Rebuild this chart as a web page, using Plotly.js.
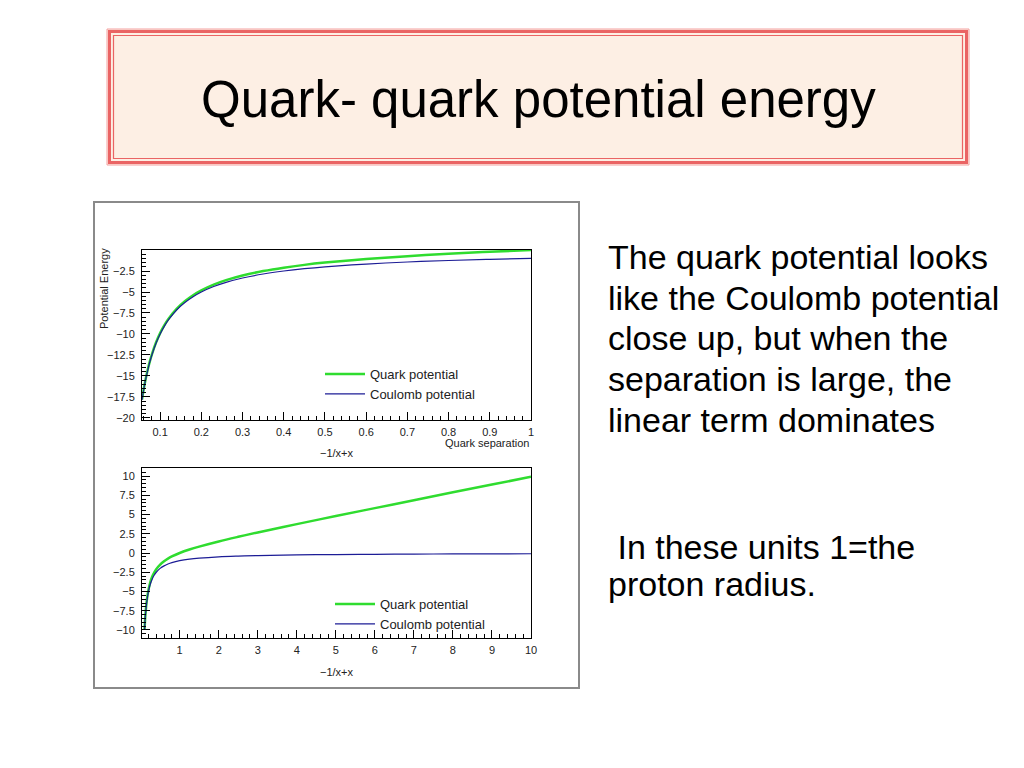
<!DOCTYPE html>
<html>
<head>
<meta charset="utf-8">
<script src="https://cdn.plot.ly/plotly-3.0.1.min.js"></script>
<style>html,body{margin:0;padding:0;background:#fff;}#chart{width:1024px;height:768px;}</style>
</head>
<body>
<div id="chart"></div>
<script>
// ---- data ----
const topX = [0.056,0.06,0.065,0.07,0.075,0.08,0.09,0.1,0.11,0.12,0.14,0.16,0.18,0.2,0.23,0.26,0.3,0.35,0.4,0.45,0.5,0.6,0.7,0.8,0.9,1.0];
const topCoulomb = [-17.86,-16.67,-15.38,-14.29,-13.33,-12.5,-11.11,-10,-9.09,-8.33,-7.14,-6.25,-5.56,-5,-4.35,-3.85,-3.33,-2.86,-2.5,-2.22,-2,-1.67,-1.43,-1.25,-1.11,-1];
const topQuark = [-17.8,-16.61,-15.32,-14.22,-13.26,-12.42,-11.02,-9.9,-8.98,-8.21,-7.0,-6.09,-5.38,-4.8,-4.12,-3.59,-3.03,-2.51,-2.1,-1.77,-1.5,-1.07,-0.73,-0.45,-0.21,0.0];

const botX = [0.1,0.11,0.12,0.14,0.16,0.18,0.2,0.25,0.3,0.35,0.4,0.5,0.6,0.7,0.8,1,1.25,1.5,2,2.5,3,4,5,6,7,8,9,10];
const botCoulomb = [-10,-9.09,-8.33,-7.14,-6.25,-5.56,-5,-4,-3.33,-2.86,-2.5,-2,-1.67,-1.43,-1.25,-1,-0.8,-0.67,-0.5,-0.4,-0.33,-0.25,-0.2,-0.17,-0.14,-0.12,-0.11,-0.1];
const botQuark = [-9.9,-8.98,-8.21,-7.0,-6.09,-5.38,-4.8,-3.75,-3.03,-2.51,-2.1,-1.5,-1.07,-0.73,-0.45,0,0.45,0.83,1.5,2.1,2.67,3.75,4.8,5.83,6.86,7.88,8.89,9.9];

const topXTicks = [0.1,0.2,0.3,0.4,0.5,0.6,0.7,0.8,0.9,1];
const topXTickText = ['0.1','0.2','0.3','0.4','0.5','0.6','0.7','0.8','0.9','1'];
const topYTicks = [-20,-17.5,-15,-12.5,-10,-7.5,-5,-2.5];
const botXTicks = [1,2,3,4,5,6,7,8,9,10];
const botYTicks = [-10,-7.5,-5,-2.5,0,2.5,5,7.5,10];

const seriesNames = ['Quark potential','Coulomb potential'];
const titleText = 'Quark- quark potential energy';
const bodyLines = ['The quark potential looks','like the Coulomb potential','close up, but when the','separation is large, the','linear term dominates'];
const noteLines = ['\u00a0In these units 1=the','proton radius.'];

// ---- styling ----
const GREEN = '#2fdc2f', BLUE = '#1c1c96';
const W = 1024, H = 768;
const px = v => v / W, py = v => 1 - v / H;
const tickFont = {family: 'Liberation Sans, Arial, sans-serif', size: 11, color: '#222'};

function xAxis(domain, range, tickvals, ticktext, minorDtick, anchor) {
  return {
    domain, range, anchor, tickmode: 'array', tickvals, ticktext,
    ticks: 'inside', ticklen: 8, tickcolor: '#000', tickwidth: 1,
    minor: {ticks: 'inside', ticklen: 4, dtick: minorDtick, tick0: 0, tickcolor: '#000', tickwidth: 1, showgrid: false},
    showline: true, linecolor: '#000', linewidth: 1, mirror: true,
    showgrid: false, zeroline: false, tickfont: tickFont, ticklabelstandoff: 2
  };
}
function yAxis(domain, range, tickvals, minorDtick, anchor) {
  return {
    domain, range, anchor, tickmode: 'array', tickvals,
    ticks: 'inside', ticklen: 8, tickcolor: '#000', tickwidth: 1,
    minor: {ticks: 'inside', ticklen: 4, dtick: minorDtick, tick0: 0, tickcolor: '#000', tickwidth: 1, showgrid: false},
    showline: true, linecolor: '#000', linewidth: 1, mirror: true,
    showgrid: false, zeroline: false, tickfont: tickFont, ticklabelstandoff: 4
  };
}

const traces = [
  {x: topX, y: topQuark, xaxis: 'x', yaxis: 'y', name: seriesNames[0], mode: 'lines',
   line: {color: GREEN, width: 2.5, shape: 'spline'}, legend: 'legend'},
  {x: topX, y: topCoulomb, xaxis: 'x', yaxis: 'y', name: seriesNames[1], mode: 'lines',
   line: {color: BLUE, width: 1.2, shape: 'spline'}, legend: 'legend'},
  {x: botX, y: botQuark, xaxis: 'x2', yaxis: 'y2', name: seriesNames[0], mode: 'lines',
   line: {color: GREEN, width: 2.5, shape: 'spline'}, legend: 'legend2'},
  {x: botX, y: botCoulomb, xaxis: 'x2', yaxis: 'y2', name: seriesNames[1], mode: 'lines',
   line: {color: BLUE, width: 1.2, shape: 'spline'}, legend: 'legend2'}
];

const legendBase = {
  bgcolor: 'rgba(0,0,0,0)', borderwidth: 0, xanchor: 'left', yanchor: 'top',
  font: {family: 'Liberation Sans, Arial, sans-serif', size: 13, color: '#222'},
  tracegroupgap: 0, itemwidth: 40
};

const annotations = [];
annotations.push({xref: 'paper', yref: 'paper', x: px(538), y: py(99), text: titleText, showarrow: false,
  xanchor: 'center', yanchor: 'middle', font: {family: 'Liberation Sans, Arial, sans-serif', size: 51, color: '#000'}});
const bodyBase = [257, 298, 338, 379, 420];
const bodyFont = {family: 'Liberation Sans, Arial, sans-serif', size: 34, color: '#000'};
bodyLines.forEach((t, i) => annotations.push({xref: 'paper', yref: 'paper', x: px(606), y: py(bodyBase[i]), text: t,
  showarrow: false, xanchor: 'left', yanchor: 'middle', font: bodyFont}));
const noteBase = [547, 584];
noteLines.forEach((t, i) => annotations.push({xref: 'paper', yref: 'paper', x: px(606), y: py(noteBase[i]), text: t,
  showarrow: false, xanchor: 'left', yanchor: 'middle', font: bodyFont}));
const smallFont = {family: 'Liberation Sans, Arial, sans-serif', size: 11, color: '#222'};
annotations.push({xref: 'paper', yref: 'paper', x: px(104), y: py(289), text: 'Potential Energy', textangle: -90,
  showarrow: false, xanchor: 'center', yanchor: 'middle', font: smallFont});
annotations.push({xref: 'paper', yref: 'paper', x: px(531), y: py(443), text: 'Quark separation',
  showarrow: false, xanchor: 'right', yanchor: 'middle', font: smallFont});
annotations.push({xref: 'paper', yref: 'paper', x: px(337), y: py(453), text: '\u22121/x+x',
  showarrow: false, xanchor: 'center', yanchor: 'middle', font: smallFont});
annotations.push({xref: 'paper', yref: 'paper', x: px(337), y: py(672), text: '\u22121/x+x',
  showarrow: false, xanchor: 'center', yanchor: 'middle', font: smallFont});

const shapes = [
  // title box
  {type: 'rect', xref: 'paper', yref: 'paper', x0: px(107), x1: px(969), y0: py(29), y1: py(165),
   fillcolor: '#fdefe4', line: {color: '#f4a0a0', width: 1}, layer: 'below'},
  {type: 'rect', xref: 'paper', yref: 'paper', x0: px(109.5), x1: px(966.5), y0: py(31.5), y1: py(162.5),
   fillcolor: 'rgba(0,0,0,0)', line: {color: '#ea6464', width: 3}, layer: 'below'},
  {type: 'rect', xref: 'paper', yref: 'paper', x0: px(113.5), x1: px(962.5), y0: py(35.5), y1: py(158.5),
   fillcolor: 'rgba(0,0,0,0)', line: {color: '#ea6464', width: 1.2}, layer: 'below'},
  // ROOT canvas frame
  {type: 'rect', xref: 'paper', yref: 'paper', x0: px(94), x1: px(579), y0: py(202), y1: py(688),
   fillcolor: '#fff', line: {color: '#8a8a8a', width: 2}, layer: 'below'}
];

const layout = {
  width: W, height: H, margin: {l: 0, r: 0, t: 0, b: 0},
  paper_bgcolor: '#fff', plot_bgcolor: 'rgba(0,0,0,0)', showlegend: true,
  xaxis: xAxis([px(142), px(531)], [0.056, 1.0], topXTicks, topXTickText, 0.02, 'y'),
  yaxis: yAxis([py(420), py(250)], [-20.24, 0.0], topYTicks, 0.5, 'x'),
  xaxis2: xAxis([px(142), px(531)], [0.035, 10], botXTicks, botXTicks.map(String), 0.2, 'y2'),
  yaxis2: yAxis([py(638), py(468)], [-11.04, 11.04], botYTicks, 0.5, 'x2'),
  legend: Object.assign({}, legendBase, {x: px(320), y: py(359)}),
  legend2: Object.assign({}, legendBase, {x: px(330), y: py(589)}),
  annotations, shapes
};

Plotly.newPlot('chart', traces, layout, {staticPlot: true, displayModeBar: false});
</script>
</body>
</html>
